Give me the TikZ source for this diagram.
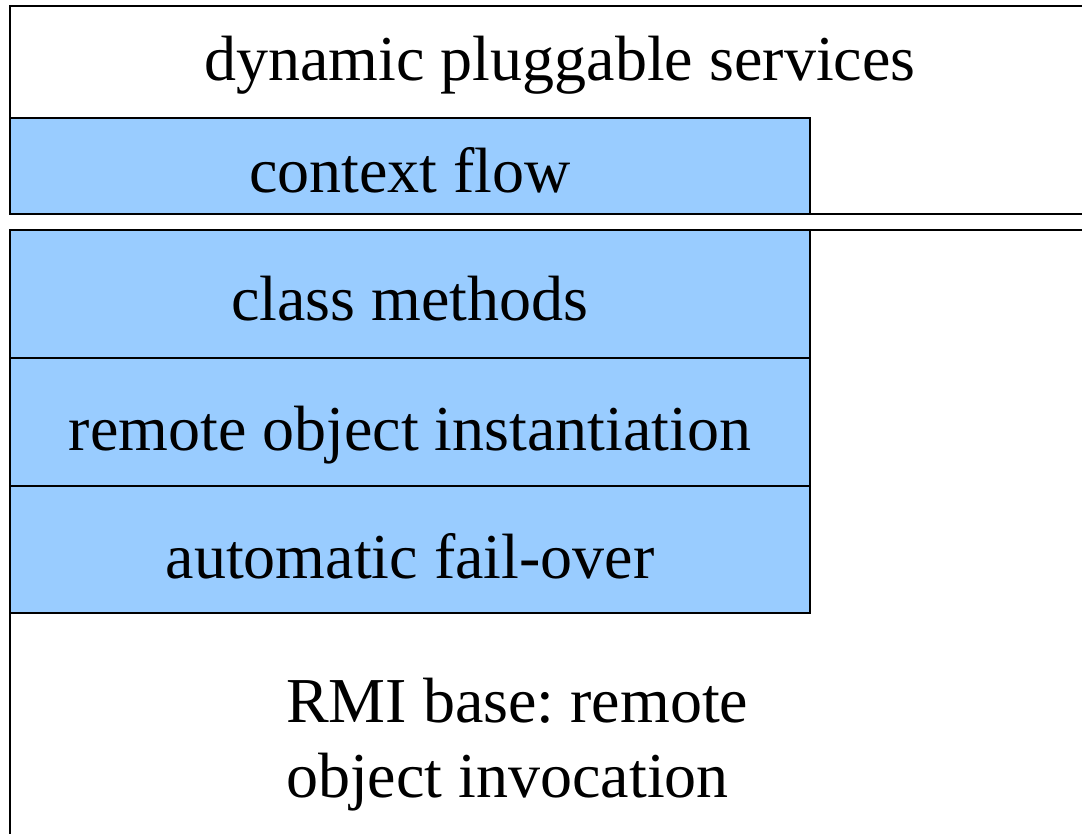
\documentclass[tikz,border=0pt]{standalone}
\usepackage{fontspec}
\setmainfont{Liberation Serif}
\definecolor{layerblue}{HTML}{99CCFF}
\begin{document}
\frenchspacing
\begin{tikzpicture}[x=1pt,y=-1pt,
  frame/.style={draw=black,line width=1.6pt},
  layer/.style={frame,fill=layerblue},
  lbl/.style={anchor=base,inner sep=0pt,font=\fontsize{64}{75}\selectfont}]
  \useasboundingbox (0,0) rectangle (1082,833);
  \begin{scope}
    \clip (0,0) rectangle (1082,833);
    % outer service layer, open towards the right
    \draw[frame] (1120,6) -- (10,6) -- (10,214) -- (1120,214);
    % RMI base, open towards the right and bottom
    \draw[frame] (1120,230) -- (10,230) -- (10,860);
  \end{scope}
  % stacked feature layers
  \draw[layer] (10,118) rectangle (810,214);
  \draw[layer] (10,230) rectangle (810,358);
  \draw[layer] (10,358) rectangle (810,486);
  \draw[layer] (10,486) rectangle (810,613);
  % labels
  \node[lbl] (dps) at (560,80) {dynamic pluggable services};
  \node[lbl] (ctx) at (410,192) {context flow};
  \node[lbl] (cls) at (410,320) {class methods};
  \node[lbl] (roi) at (410,450) {remote object instantiation};
  \node[lbl] (afo) at (410,578) {automatic fail-over};
  \node[lbl,anchor=base west] (rmi1) at (286,722) {RMI base: remote};
  \node[lbl,anchor=base west] (rmi2) at (286,797) {object invocation};
\end{tikzpicture}
\end{document}
